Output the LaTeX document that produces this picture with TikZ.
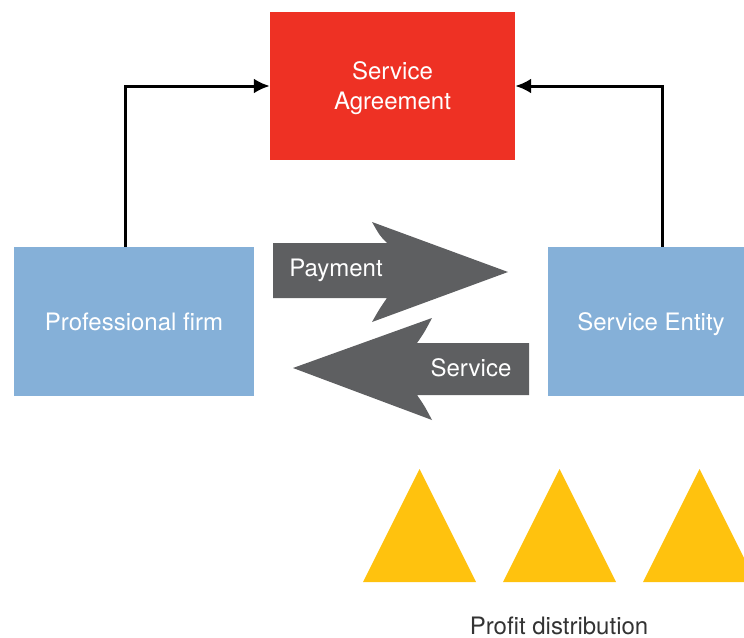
\documentclass[tikz,border=0pt]{standalone}
\usepackage{fontspec}
\setmainfont{TeX Gyre Heros}
\usetikzlibrary{arrows.meta}

\definecolor{rosso}{HTML}{EE3124}
\definecolor{blu}{HTML}{85B0D8}
\definecolor{grigio}{HTML}{5E5F61}
\definecolor{giallo}{HTML}{FFC20E}
\definecolor{scuro}{HTML}{333333}

\begin{document}
\begin{tikzpicture}[x=1pt,y=-1pt]
  \useasboundingbox (0,0) rectangle (744,637);

  % def box
  \coordinate (SA) at (392.5,86);
  \coordinate (PF) at (134,321.5);
  \coordinate (SE) at (651,321.5);

  %stili
  \tikzset{box/.style={rectangle, inner sep=0pt, text=white, align=center,
                       text depth=0pt, font=\fontsize{24}{30}\selectfont},
           link/.style={black, line width=3pt, -{Latex[length=16pt,width=15pt]}},
           etichetta/.style={text=white, font=\fontsize{24}{30}\selectfont}}

  % box
  \node[box, fill=rosso, minimum width=245pt, minimum height=148pt] (sa) at (SA) {};
  \node[box, fill=blu, minimum width=240pt, minimum height=149pt] (pf) at (PF) {Professional firm};
  \node[box, fill=blu, minimum width=206pt, minimum height=149pt] (se) at (SE) {Service Entity};
  \node[etichetta, align=center] (sat) at (392.5,88) {Service\\Agreement};

  %frecce
  \draw[link] ([xshift=-9pt]pf.north) |- (sa.west);
  \draw[link] ([xshift=11pt]se.north) |- (sa.east);

  % frecce grandi
  \fill[grigio] (273,243) -- (387,243) .. controls (380,236) .. (372,222)
    -- (508,272) -- (372,322) .. controls (380,308) .. (387,298) -- (273,298) -- cycle;
  \fill[grigio] (529,343) -- (417,343) .. controls (424,333) .. (432,318)
    -- (293,368) -- (432,420) .. controls (424,405) .. (417,395) -- (529,395) -- cycle;
  \node[etichetta] (pay) at (336,270) {Payment};
  \node[etichetta] (serv) at (471,368) {Service};

  % triangoli
  \foreach \x in {363,503,643}
    \fill[giallo] (\x,582) -- ++(56.5,-113) -- ++(56.5,113) -- cycle;

  %etichette
  \node[text=scuro, inner sep=0pt, anchor=base, font=\fontsize{24}{30}\selectfont] (profit) at (559,634) {Profit distribution};

\end{tikzpicture}
\end{document}
